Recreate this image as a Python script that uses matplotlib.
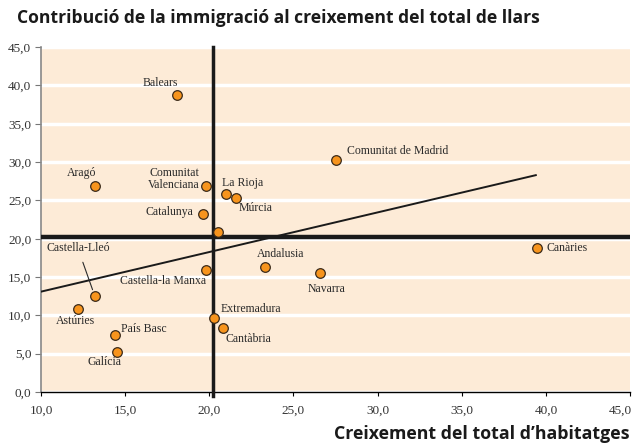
import numpy as np
import matplotlib
matplotlib.use("Agg")
import matplotlib.pyplot as plt
import matplotlib.transforms as mtransforms

# regions: housing growth (x) vs immigration contribution to households growth (y)
regions = ["Balears", "Aragó", "Comunitat\nValenciana", "La Rioja", "Múrcia",
           "Catalunya", "", "Comunitat de Madrid", "Castella-Lleó", "Astúries",
           "País Basc", "Galícia", "Castella-la Manxa", "Andalusia",
           "Extremadura", "Cantàbria", "Navarra", "Canàries"]
habitatges = [18.1, 13.2, 19.8, 21.0, 21.6, 19.6, 20.5, 27.5, 13.2, 12.2,
              14.4, 14.5, 19.8, 23.3, 20.3, 20.8, 26.6, 39.5]
immigracio = [38.8, 26.9, 26.9, 25.8, 25.3, 23.2, 20.9, 30.3, 12.5, 10.9,
              7.4, 5.2, 15.9, 16.3, 9.7, 8.4, 15.5, 18.8]

# average lines and trend line
mitjana_x = 20.2
mitjana_y = 20.25
tendencia_x = [10.0, 39.4]
tendencia_y = [13.1, 28.3]

xticks = np.arange(10, 46, 5)
yticks = np.arange(0, 46, 5)

# label placement: (dx px, dy px, ha, va)
offs = {
    "Balears": (-17, 12, "center", "center"),
    "Aragó": (-13, 13, "center", "center"),
    "Comunitat\nValenciana": (-6, 7, "right", "center"),
    "La Rioja": (-4, 11, "left", "center"),
    "Múrcia": (2, -10, "left", "center"),
    "Catalunya": (-9, 2, "right", "center"),
    "Comunitat de Madrid": (11, 9, "left", "center"),
    "Astúries": (-3, -12, "center", "center"),
    "País Basc": (6, 6, "left", "center"),
    "Galícia": (-12, -10, "center", "center"),
    "Castella-la Manxa": (0, -11, "right", "center"),
    "Andalusia": (16, 13, "center", "center"),
    "Extremadura": (6, 9, "left", "center"),
    "Cantàbria": (3, -11, "left", "center"),
    "Navarra": (6, -16, "center", "center"),
    "Canàries": (9, 0, "left", "center"),
}

serif = ["Liberation Serif", "DejaVu Serif"]
fig = plt.figure(figsize=(6.35, 4.45), dpi=100)
ax = fig.add_axes([0.0646, 0.119, 0.9276, 0.775])
ax.set_facecolor("#fdebd7")

ax.set_xlim(10, 45)
ax.set_ylim(0, 45)
ax.set_xticks(xticks)
ax.set_yticks(yticks)
ax.set_xticklabels([("%.1f" % v).replace(".", ",") for v in xticks],
                   family=serif, fontsize=9.5, color="#333333")
ax.set_yticklabels([("%.1f" % v).replace(".", ",") for v in yticks],
                   family=serif, fontsize=9.5, color="#333333")
ax.tick_params(axis="x", length=3, width=0.8, pad=6)
ax.tick_params(axis="y", length=4, width=0.8, color="#777777", pad=3)
# last x label sits against the right edge
last = ax.get_xticklabels()[-1]
last.set_transform(last.get_transform() +
                   mtransforms.ScaledTranslation(-10 / 100, 0, fig.dpi_scale_trans))
ax.yaxis.grid(True, color="white", lw=2.5)
ax.set_axisbelow(True)
for s in ["top", "right"]:
    ax.spines[s].set_visible(False)
ax.spines["left"].set_color("#888888")
ax.spines["left"].set_linewidth(1.2)
ax.spines["bottom"].set_linewidth(1)

ax.plot(tendencia_x, tendencia_y, color="#1a1a1a", lw=1.4, zorder=3)
ax.axhline(mitjana_y, color="#1a1a1a", lw=3.2, zorder=3)
ax.plot([mitjana_x, mitjana_x], [-0.5, 45], color="#1a1a1a", lw=2.5,
        zorder=3, clip_on=False)

ax.scatter(habitatges, immigracio, s=48, color="#f7941d", edgecolor="#3a2a1a",
           linewidth=0.9, zorder=5)

k = 0.72
for name, x, y in zip(regions, habitatges, immigracio):
    if name in offs:
        dx, dy, ha, va = offs[name]
        ax.annotate(name, (x, y), xytext=(dx * k, dy * k), textcoords="offset points",
                    ha=ha, va=va, family=serif, fontsize=8.5, color="#2a2a2a",
                    multialignment="center", linespacing=0.95, zorder=6)

# Castella-Lleó with leader line
ax.annotate("Castella-Lleó", (13.2, 12.5), xytext=(-17 * k, 48 * k),
            textcoords="offset points", ha="center", va="center", family=serif,
            fontsize=8.5, color="#2a2a2a", zorder=6,
            arrowprops=dict(arrowstyle="-", color="#2a2a2a", lw=0.8,
                            shrinkA=4, shrinkB=5))

fig.text(0.027, 0.96, "Contribució de la immigració al creixement del total de llars",
         family=["Open Sans", "DejaVu Sans"], fontweight="bold", fontsize=12.6,
         color="#1a1a1a", ha="left", va="center")
fig.text(0.992, 0.004, "Creixement del total d\u2019habitatges",
         family=["Open Sans", "DejaVu Sans"], fontweight="bold", fontsize=12.8,
         color="#1a1a1a", ha="right", va="bottom")

fig.savefig("out.png", dpi=100)
